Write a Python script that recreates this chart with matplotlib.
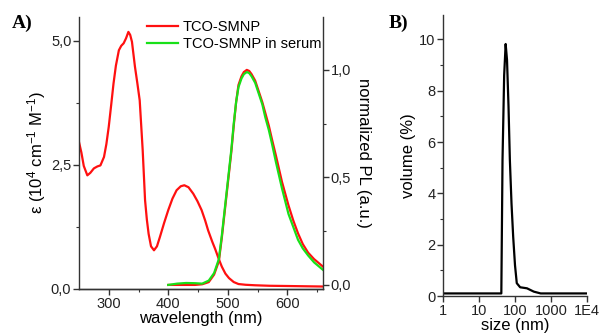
import matplotlib
matplotlib.use("Agg")
import matplotlib.pyplot as plt
import numpy as np
from matplotlib.ticker import MultipleLocator, FuncFormatter, FixedLocator, LogLocator, NullFormatter
from matplotlib.lines import Line2D

plt.rcParams['font.family'] = ['Liberation Sans', 'DejaVu Sans']
plt.rcParams['mathtext.fontset'] = 'custom'
plt.rcParams['mathtext.rm'] = 'Liberation Sans'
plt.rcParams['mathtext.it'] = 'Liberation Sans'

# absorption (epsilon, 10^4 cm-1 M-1)
abs_wl = [250, 254, 258, 264, 269, 275, 281, 286, 292, 296, 300, 304, 308, 312, 317, 321,
          325, 329, 333, 336, 339, 344, 348, 352, 357, 361, 364, 367, 371, 376, 381, 386,
          393, 400, 407, 414, 421, 427, 434, 442, 449, 456, 462, 467, 474, 479, 485, 490,
          496, 502, 510, 518, 530, 546, 570, 602, 630, 660]
abs_eps = [2.96, 2.75, 2.48, 2.29, 2.34, 2.43, 2.47, 2.49, 2.66, 2.92, 3.27, 3.70, 4.14,
           4.50, 4.81, 4.90, 4.95, 5.05, 5.18, 5.12, 4.98, 4.48, 4.15, 3.80, 2.80, 1.79,
           1.40, 1.11, 0.86, 0.78, 0.86, 1.05, 1.33, 1.59, 1.82, 1.99, 2.07, 2.09, 2.05,
           1.92, 1.77, 1.59, 1.38, 1.18, 0.95, 0.80, 0.60, 0.45, 0.31, 0.22, 0.14, 0.10,
           0.085, 0.075, 0.065, 0.06, 0.055, 0.05]

# normalized PL
pl_wl = [400, 415, 430, 445, 457, 468, 477, 485, 490, 496, 502, 506, 510, 514, 518, 523,
         527, 532, 536, 540, 546, 552, 558, 563, 569, 574, 581, 591, 602, 610, 618, 626,
         635, 645, 660]
pl_serum = [0.0, 0.006, 0.009, 0.008, 0.006, 0.02, 0.055, 0.12, 0.23, 0.38, 0.53, 0.63,
            0.75, 0.85, 0.92, 0.96, 0.98, 0.99, 0.985, 0.97, 0.94, 0.89, 0.84, 0.78, 0.72,
            0.66, 0.57, 0.45, 0.33, 0.27, 0.21, 0.17, 0.137, 0.105, 0.07]
pl_np = [0.0, 0.0, 0.0, 0.0, 0.003, 0.013, 0.048, 0.11, 0.22, 0.37, 0.52, 0.62,
         0.74, 0.85, 0.93, 0.97, 0.99, 1.0, 0.995, 0.98, 0.95, 0.90, 0.85, 0.80, 0.74,
         0.68, 0.60, 0.48, 0.37, 0.30, 0.24, 0.19, 0.15, 0.12, 0.085]

# DLS size distribution
dls_size = [1, 10, 41.7, 45, 50, 55, 60, 66, 72, 80, 89, 100, 112, 139, 215, 333, 517, 1000, 10000]
dls_vol = [0.1, 0.1, 0.1, 5.3, 8.6, 9.82, 9.2, 7.4, 5.3, 3.6, 2.31, 1.2, 0.5, 0.34, 0.30,
           0.17, 0.1, 0.1, 0.1]

W, H = 601, 333
fig = plt.figure(figsize=(W / 100, H / 100), dpi=100)

spine_col = '#333333'
tick_fs = 10.5
lab_fs = 12
red = '#ff1010'
green = '#18e018'

# ---- panel A
ax = fig.add_axes([79 / W, (H - 289) / H, (323 - 79) / W, (289 - 17) / H])
ax.plot(abs_wl, abs_eps, color=red, lw=1.6)
ax.set_xlim(250, 660)
ax.set_ylim(0, 5.48)
ax.spines['top'].set_visible(False)
ax.spines['right'].set_visible(False)
ax.xaxis.set_major_locator(FixedLocator([300, 400, 500, 600]))
ax.xaxis.set_minor_locator(FixedLocator([350, 450, 550, 650]))
ax.yaxis.set_major_locator(MultipleLocator(2.5))
ax.yaxis.set_minor_locator(MultipleLocator(1.25))
comma = FuncFormatter(lambda v, p: f"{v:.1f}".replace('.', ','))
ax.yaxis.set_major_formatter(comma)
ax.set_xlabel('wavelength (nm)', fontsize=lab_fs, labelpad=0)
ax.set_ylabel(r'ε (10$^{4}$ cm$^{-1}$ M$^{-1}$)', fontsize=lab_fs, labelpad=2)

ax2 = ax.twinx()
ax2.plot(pl_wl, pl_np, color=red, lw=1.6)
ax2.plot(pl_wl, pl_serum, color=green, lw=1.6)
ax2.set_ylim(-0.019, 1.246)
ax2.spines['top'].set_visible(False)
ax2.spines['left'].set_visible(False)
ax2.yaxis.set_major_locator(MultipleLocator(0.5))
ax2.yaxis.set_minor_locator(MultipleLocator(0.25))
ax2.yaxis.set_major_formatter(comma)
ax2.set_ylabel('normalized PL (a.u.)', fontsize=lab_fs, rotation=270, labelpad=14)

handles = [Line2D([], [], color=red, lw=1.6), Line2D([], [], color=green, lw=1.6)]
ax2.legend(handles, ['TCO-SMNP', 'TCO-SMNP in serum'], loc='upper left',
           bbox_to_anchor=((147 - 79) / 244, 0.99), frameon=False, fontsize=tick_fs,
           borderpad=0, borderaxespad=0, handlelength=2.1, handletextpad=0.35,
           labelspacing=0.25)

# ---- panel B
bx = fig.add_axes([443 / W, (H - 296) / H, (587 - 443) / W, (296 - 15) / H])
bx.plot(dls_size, dls_vol, color='black', lw=1.6)
bx.set_xscale('log')
bx.set_xlim(1, 1e4)
bx.set_ylim(0, 10.95)
bx.spines['top'].set_visible(False)
bx.spines['right'].set_visible(False)
bx.xaxis.set_major_locator(FixedLocator([1, 10, 100, 1000, 10000]))
bx.xaxis.set_major_formatter(FuncFormatter(
    lambda v, p: {1: '1', 10: '10', 100: '100', 1000: '1000', 10000: '1E4'}.get(int(round(v)), '')))
bx.xaxis.set_minor_locator(LogLocator(base=10, subs=np.arange(2, 10)))
bx.xaxis.set_minor_formatter(NullFormatter())
bx.yaxis.set_major_locator(MultipleLocator(2))
bx.yaxis.set_minor_locator(MultipleLocator(1))
bx.set_xlabel('size (nm)', fontsize=lab_fs, labelpad=0)
bx.set_ylabel('volume (%)', fontsize=lab_fs, labelpad=2)

for a in (ax, ax2, bx):
    for s in a.spines.values():
        s.set_color(spine_col)
        s.set_linewidth(1.0)
    a.tick_params(which='both', direction='out', colors=spine_col, labelcolor='#222222',
                  labelsize=tick_fs, pad=1.5)
    a.tick_params(which='major', length=4, width=1.0)
    a.tick_params(which='minor', length=2.5, width=0.8)

fig.text(12 / W, 1 - 23 / H, 'A)', fontsize=14, fontweight='bold',
         family='Liberation Serif', va='center', ha='left')
fig.text(389 / W, 1 - 23 / H, 'B)', fontsize=14, fontweight='bold',
         family='Liberation Serif', va='center', ha='left')

fig.savefig('out.png', dpi=100)
